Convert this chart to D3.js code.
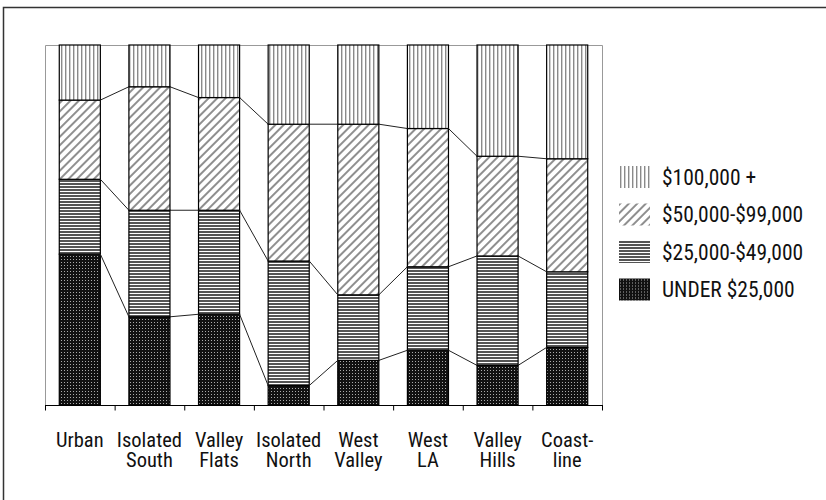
<!DOCTYPE html>
<head>
  <meta charset="utf-8">
  <title>Income by region</title>
  <script src="https://cdnjs.cloudflare.com/ajax/libs/d3/7.8.5/d3.min.js"></script>
  <style>
    body { margin: 0; background: white; }
    text {
      font-family: "Liberation Sans Narrow", "Arial Narrow", "Roboto Condensed", sans-serif;
      font-stretch: condensed;
      fill: #111;
    }
  </style>
</head>
<body>
<script>
// regions, split into the two label lines used under the axis
const categories = ["Urban", "Isolated South", "Valley Flats", "Isolated North",
                    "West Valley", "West LA", "Valley Hills", "Coastline"];
const labelLines = [["Urban"], ["Isolated", "South"], ["Valley", "Flats"], ["Isolated", "North"],
                    ["West", "Valley"], ["West", "LA"], ["Valley", "Hills"], ["Coast-", "line"]];

// percent of households per income band
const under25  = [41.9, 24.5, 25.2,  5.4, 12.4, 15.2, 11.0, 16.0];
const from25   = [20.8, 29.6, 28.9, 34.6, 18.2, 23.2, 30.4, 21.0];
const from50   = [22.0, 34.3, 31.3, 38.0, 47.4, 38.4, 27.7, 31.4];
const over100  = [15.3, 11.6, 14.6, 22.0, 22.0, 23.2, 30.9, 31.6];

const seriesKeys = ["under", "k25", "k50", "k100"];
const seriesNames = ["UNDER $25,000", "$25,000-$49,000", "$50,000-$99,000", "$100,000 +"];

const rows = categories.map((c, i) => ({
  cat: c, under: under25[i], k25: from25[i], k50: from50[i], k100: over100[i]
}));

const W = 826, H = 500;
const m = { left: 45, right: 602, top: 45, bottom: 405 };

const svg = d3.select("body").append("svg").attr("width", W).attr("height", H);

// fill patterns
const defs = svg.append("defs");
const pVert = defs.append("pattern").attr("id", "p-k100").attr("patternUnits", "userSpaceOnUse")
  .attr("width", 4).attr("height", 4);
pVert.append("rect").attr("width", 4).attr("height", 4).attr("fill", "white");
pVert.append("rect").attr("x", 1).attr("width", 1.4).attr("height", 4).attr("fill", "#8a8a8a");

const pDiag = defs.append("pattern").attr("id", "p-k50").attr("patternUnits", "userSpaceOnUse")
  .attr("width", 6).attr("height", 6).attr("patternTransform", "rotate(45)");
pDiag.append("rect").attr("width", 6).attr("height", 6).attr("fill", "white");
pDiag.append("rect").attr("width", 2).attr("height", 6).attr("fill", "#8f8f8f");

const pHoriz = defs.append("pattern").attr("id", "p-k25").attr("patternUnits", "userSpaceOnUse")
  .attr("width", 4).attr("height", 3);
pHoriz.append("rect").attr("width", 4).attr("height", 3).attr("fill", "white");
pHoriz.append("rect").attr("width", 4).attr("height", 2).attr("fill", "#555");

const pDots = defs.append("pattern").attr("id", "p-under").attr("patternUnits", "userSpaceOnUse")
  .attr("width", 3).attr("height", 3);
pDots.append("rect").attr("width", 3).attr("height", 3).attr("fill", "#111");
pDots.append("rect").attr("x", 1).attr("y", 1).attr("width", 1).attr("height", 1).attr("fill", "#aaa");

// outer frame (only top and left show)
svg.append("path").attr("d", `M3.5,${H} V7.5 H${W}`).attr("fill", "none")
  .attr("stroke", "#333").attr("stroke-width", 1.5);

const x = d3.scaleBand().domain(categories).range([m.left, m.right])
  .paddingInner(0.41).paddingOuter(0.205);
const y = d3.scaleLinear().domain([0, 1]).range([m.bottom, m.top]);

const stack = d3.stack().keys(seriesKeys).offset(d3.stackOffsetExpand);
const series = stack(rows);

// plot area border
svg.append("path")
  .attr("d", `M${m.left + 0.5},${m.bottom} V${m.top + 0.5} H${m.right + 0.5} V${m.bottom}`)
  .attr("fill", "none").attr("stroke", "#999");

// bars
svg.append("g").selectAll("g").data(series).join("g")
  .attr("fill", d => `url(#p-${d.key})`)
  .selectAll("rect").data(d => d).join("rect")
  .attr("x", d => x(d.data.cat))
  .attr("y", d => y(d[1]))
  .attr("width", x.bandwidth())
  .attr("height", d => y(d[0]) - y(d[1]))
  .attr("stroke", "#000").attr("stroke-width", 1.2);

// series lines joining the boundaries between neighbouring bars
series.slice(0, 3).forEach(s => {
  const segs = [];
  for (let i = 0; i < s.length - 1; i++) {
    segs.push(`M${x(s[i].data.cat) + x.bandwidth()},${y(s[i][1])}L${x(s[i + 1].data.cat)},${y(s[i + 1][1])}`);
  }
  svg.append("path").attr("d", segs.join("")).attr("fill", "none")
    .attr("stroke", "#222").attr("stroke-width", 1);
});

// category axis
const ax = svg.append("g").attr("transform", `translate(0,${m.bottom + 0.5})`);
ax.append("line").attr("x1", m.left).attr("x2", m.right + 1).attr("stroke", "#000");
const edges = categories.map(c => x(c) - x.step() * x.paddingOuter()).concat([m.right]);
ax.selectAll(".tick").data(edges).join("line")
  .attr("x1", d => d + 0.5).attr("x2", d => d + 0.5).attr("y1", 0).attr("y2", 5)
  .attr("stroke", "#000");

// one text per label line
const lab = [];
labelLines.forEach((lines, i) => lines.forEach((t, j) => lab.push({ i, j, t })));
svg.append("g").selectAll("text").data(lab).join("text")
  .attr("x", d => x(categories[d.i]) + x.bandwidth() / 2)
  .attr("y", d => 447 + d.j * 19.5)
  .attr("text-anchor", "middle")
  .style("font-size", "20.5px")
  .text(d => d.t);

// legend (top entry first)
const legendKeys = seriesKeys.slice().reverse();
const legendNames = seriesNames.slice().reverse();
const lg = svg.append("g").selectAll("g").data(legendKeys).join("g")
  .attr("transform", (d, i) => `translate(619,${166 + i * 37.5})`);
lg.append("rect").attr("width", 31).attr("height", 22).attr("fill", d => `url(#p-${d})`);
lg.append("text").attr("x", 43).attr("y", 11).attr("dy", "0.36em")
  .style("font-size", "21.5px")
  .text((d, i) => legendNames[i]);
</script>
</body>
